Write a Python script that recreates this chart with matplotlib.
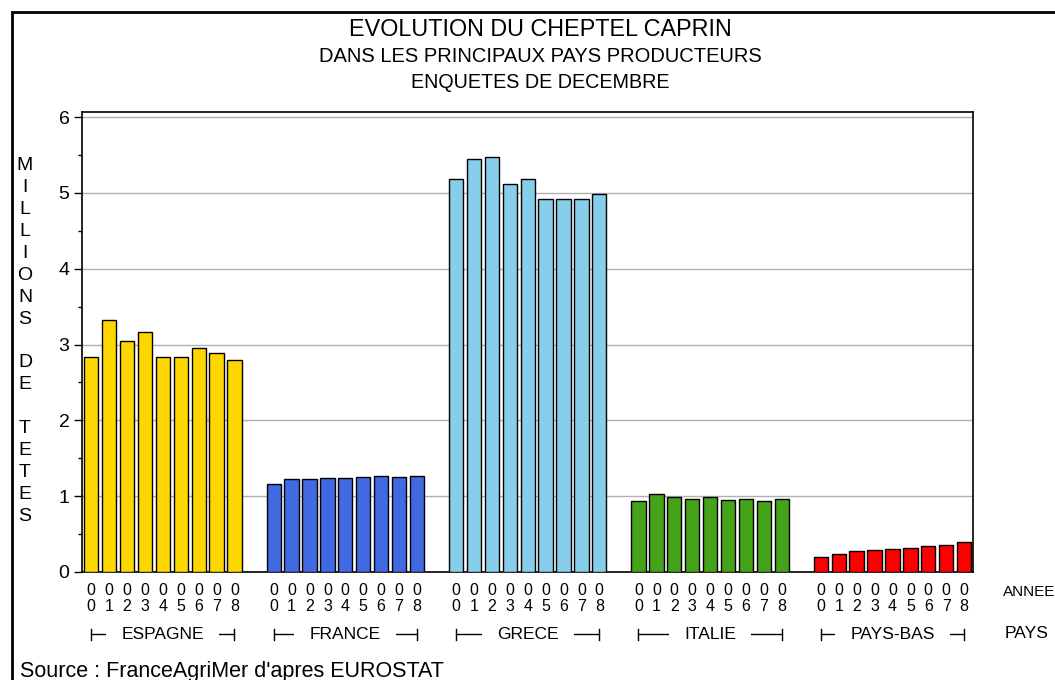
import matplotlib
matplotlib.use("Agg")
import matplotlib.pyplot as plt
from matplotlib.patches import Rectangle
from matplotlib.lines import Line2D
import numpy as np

plt.rcParams['font.family'] = ['Liberation Sans', 'DejaVu Sans']

pays = ["ESPAGNE", "FRANCE", "GRECE", "ITALIE", "PAYS-BAS"]
annees = ["00", "01", "02", "03", "04", "05", "06", "07", "08"]
couleurs = ["#FFD700", "#4169E1", "#87CEEB", "#44A319", "#FF0000"]

espagne = [2.83, 3.32, 3.05, 3.16, 2.83, 2.83, 2.96, 2.89, 2.79]
france = [1.16, 1.23, 1.23, 1.24, 1.24, 1.25, 1.26, 1.25, 1.27]
grece = [5.18, 5.45, 5.47, 5.12, 5.18, 4.92, 4.92, 4.92, 4.98]
italie = [0.93, 1.03, 0.99, 0.96, 0.985, 0.945, 0.96, 0.93, 0.96]
pays_bas = [0.20, 0.237, 0.277, 0.294, 0.307, 0.31, 0.343, 0.36, 0.396]
series = [espagne, france, grece, italie, pays_bas]

pitch = 10.19  # distance entre groupes (en largeurs de barre)

fig = plt.figure(figsize=(10.55, 6.8), dpi=100)
ax = fig.add_axes([82/1055, 1-572/680, (973-82)/1055, (572-112)/680])

xticks = []
xlabels = []
for g, vals in enumerate(series):
    x = g*pitch + np.arange(len(vals))
    ax.bar(x, vals, width=0.8, color=couleurs[g], edgecolor="black",
           linewidth=1.0, zorder=3)
    xticks += list(x)
    xlabels += [a[0] + "\n" + a[1] for a in annees]

ax.set_xlim(-0.52, 49.26)
ax.set_ylim(0, 6.066)
ax.set_yticks(range(7))
ax.set_yticks(np.arange(0.5, 6, 1.0), minor=True)
ax.tick_params(axis="y", which="major", length=6, width=1, labelsize=14, pad=3)
ax.tick_params(axis="y", which="minor", length=3, width=1)
ax.set_xticks(xticks)
ax.set_xticklabels(xlabels, fontsize=11.5, linespacing=1.1)
ax.tick_params(axis="x", length=0, pad=8)
ax.yaxis.grid(True, color="#b0b0b0", linewidth=1, zorder=0)
for s in ax.spines.values():
    s.set_linewidth(1.2)

# etiquettes des pays avec crochets
trans = ax.get_xaxis_transform()
yb = -0.135
for g, nom in enumerate(pays):
    x0 = g*pitch
    x1 = g*pitch + 8
    ax.add_line(Line2D([x0, x1], [yb, yb], transform=trans, color="black",
                       lw=1, clip_on=False))
    for xe in (x0, x1):
        ax.add_line(Line2D([xe, xe], [yb-0.012, yb+0.012], transform=trans,
                           color="black", lw=1, clip_on=False))
    ax.text((x0+x1)/2, yb, nom, transform=trans, ha="center", va="center",
            fontsize=12.5, bbox=dict(facecolor="white", edgecolor="none", pad=11))

ax.text(1003/1055, 1-592/680, "ANNEE", transform=fig.transFigure,
        ha="left", va="center", fontsize=11)
ax.text(1005/1055, 1-634/680, "PAYS", transform=fig.transFigure,
        ha="left", va="center", fontsize=12.5)

# titres
fig.text(540/1055, 1-30/680, "EVOLUTION DU CHEPTEL CAPRIN", ha="center",
         va="center", fontsize=16.8)
fig.text(540/1055, 1-57/680, "DANS LES PRINCIPAUX PAYS PRODUCTEURS",
         ha="center", va="center", fontsize=14.5)
fig.text(540/1055, 1-83/680, "ENQUETES DE DECEMBRE", ha="center",
         va="center", fontsize=14.2)

# titre vertical
lettres = "MILLIONS DE TETES"
fig.text(25/1055, 1-341/680, "\n".join(lettres),
         ha="center", va="center", fontsize=14, linespacing=1.38)

fig.text(20/1055, 1-671/680, "Source : FranceAgriMer d'apres EUROSTAT",
         ha="left", va="center", fontsize=15.5)

# cadre
fig.patches.append(Rectangle((12/1055, -0.1), 1.2, (680-12)/680 + 0.1,
                             transform=fig.transFigure, fill=False,
                             edgecolor="black", linewidth=2))

fig.savefig("out.png", dpi=100)
